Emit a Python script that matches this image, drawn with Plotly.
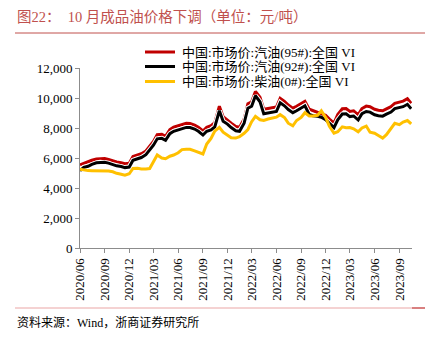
import pandas as pd
import plotly.graph_objects as go

# Semi-monthly observations, 2020-06 to 2023-10 (yuan/ton)
dates = pd.date_range("2020-06-01", "2023-10-15", freq="SMS")

gasoline_95 = [
    5550, 5650, 5750, 5850, 5930, 5960, 5960, 5900, 5790, 5730, 5680, 5620,
    5650, 6100, 6200, 6280, 6470, 6750, 7100, 7550, 7580, 7450, 7900, 8050,
    8150, 8250, 8310, 8300, 8200, 8050, 7800, 8050, 8150, 8350, 9450, 8750,
    8550, 8320, 8100, 8050, 8600, 9620, 9750, 10440, 10050, 9250, 9300, 9330,
    9400, 9980, 9780, 9530, 9320, 9450, 9620, 9780, 9250, 9150, 9050, 8920,
    8850, 8600, 8320, 8900, 9280, 9300, 9100, 9150, 8880, 9300, 9460, 9420,
    9250, 9180, 9150, 9280, 9420, 9650, 9740, 9790, 9950, 9650,
]
gasoline_92 = [
    5150, 5380, 5450, 5580, 5680, 5720, 5720, 5660, 5550, 5480, 5430, 5360,
    5400, 5850, 5950, 6030, 6220, 6500, 6850, 7280, 7310, 7180, 7620, 7780,
    7870, 7970, 8040, 8030, 7930, 7780, 7530, 7780, 7880, 8080, 9150, 8450,
    8260, 8030, 7820, 7780, 8320, 9320, 9450, 10150, 9750, 8950, 9000, 9030,
    9100, 9680, 9480, 9230, 9020, 9150, 9320, 9480, 8900, 8820, 8780, 8720,
    8550, 8300, 8020, 8550, 8930, 8950, 8760, 8800, 8530, 8950, 9100, 9060,
    8880, 8820, 8790, 8920, 9060, 9290, 9370, 9420, 9580, 9280,
]
diesel_0 = [
    5260, 5200, 5160, 5150, 5150, 5160, 5160, 5130, 5080, 4980, 4920, 4860,
    4950, 5300, 5320, 5270, 5270, 5300, 5750, 6200, 6000, 5950, 6120, 6200,
    6350, 6560, 6580, 6580, 6480, 6380, 6270, 6930, 7300, 7800, 8040, 7720,
    7500, 7350, 7330, 7420, 7650, 7900, 8420, 8780, 8550, 8500, 8600, 8650,
    8720, 8890, 8700, 8320, 8150, 8500, 8700, 9020, 8800, 8800, 8850, 9150,
    8700, 8120, 7650, 7750, 8080, 8020, 8030, 7950, 7750, 8000, 8130, 7720,
    7650, 7500, 7330, 7550, 7980, 8310, 8220, 8400, 8500, 8280,
]

series_names = [
    "中国:市场价:汽油(95#):全国 VI",
    "中国:市场价:汽油(92#):全国 VI",
    "中国:市场价:柴油(0#):全国 VI",
]
series_values = [gasoline_95, gasoline_92, diesel_0]
series_colors = ["#c00000", "#000000", "#ffc000"]
tick_dates = pd.date_range("2020-06-01", "2023-09-01", freq="3MS")
tick_labels = [d.strftime("%Y/%m") for d in tick_dates]

title_text = "图22：  10 月成品油价格下调（单位：元/吨）"
source_text = "资料来源：Wind，浙商证券研究所"

W, H = 437, 344
L, R, T, B = 80, 412, 68, 248
FONT = "Times New Roman, Liberation Serif, Noto Sans CJK SC, serif"


def px(x):
    return (x - L) / (R - L)


def py(y):
    return (B - y) / (B - T)


fig = go.Figure()
for name, vals, col in zip(series_names, series_values, series_colors):
    if col != "#ffc000":
        # thin white halo keeps the two gasoline lines visually separated
        fig.add_trace(go.Scatter(x=dates, y=vals, mode="lines", showlegend=False,
                                 hoverinfo="skip",
                                 line=dict(color="white", width=5)))
    fig.add_trace(go.Scatter(x=dates, y=vals, mode="lines", name=name,
                             showlegend=False,
                             line=dict(color=col, width=3)))

fig.update_layout(
    width=W, height=H,
    margin=dict(l=L, r=W - R, t=T, b=H - B),
    paper_bgcolor="white", plot_bgcolor="white",
    font=dict(family=FONT, size=13, color="#000000"),
    showlegend=False,
    xaxis=dict(
        type="date", range=["2020-06-01", "2023-10-18"],
        tickvals=list(tick_dates), ticktext=tick_labels, tickangle=-90,
        showgrid=False, zeroline=False, showline=True, linecolor="#8c8c8c",
        linewidth=1, ticks="outside", ticklen=4, tickcolor="#8c8c8c",
        tickfont=dict(size=13, family=FONT),
    ),
    yaxis=dict(
        range=[0, 12000], dtick=2000, tickformat=",",
        showgrid=False, zeroline=False, showline=True, linecolor="#8c8c8c",
        linewidth=1, ticks="outside", ticklen=4, tickcolor="#8c8c8c",
        tickfont=dict(size=13, family=FONT),
    ),
)

# compact legend: line swatch + label per series
legend_rows_y = [52, 66.5, 81.5]
for name, col, ly in zip(series_names, series_colors, legend_rows_y):
    fig.add_shape(type="line", xref="paper", yref="paper",
                  x0=px(145), x1=px(175), y0=py(ly), y1=py(ly),
                  line=dict(color=col, width=3))
    fig.add_annotation(text=name, xref="paper", yref="paper",
                       x=px(180), y=py(ly), xanchor="left", yanchor="middle",
                       showarrow=False,
                       font=dict(size=13, color="#000000", family=FONT))

# title, rules and source note
fig.add_annotation(text=title_text, xref="paper", yref="paper",
                   x=px(15), y=py(17), xanchor="left", yanchor="middle",
                   showarrow=False,
                   font=dict(size=14.5, color="#c0504d", family=FONT))
fig.add_shape(type="line", xref="paper", yref="paper",
              x0=px(15), x1=px(425), y0=py(33), y1=py(33),
              line=dict(color="#c0504d", width=1))
fig.add_shape(type="line", xref="paper", yref="paper",
              x0=px(15), x1=px(425), y0=py(308), y1=py(308),
              line=dict(color="#eaa5a5", width=1))
fig.add_shape(type="line", xref="paper", yref="paper",
              x0=px(412), x1=px(425), y0=py(308), y1=py(308),
              line=dict(color="#d98080", width=2))
fig.add_annotation(text=source_text, xref="paper", yref="paper",
                   x=px(15), y=py(322), xanchor="left", yanchor="middle",
                   showarrow=False,
                   font=dict(size=12, color="#000000", family=FONT))

fig.write_html("out.html")
